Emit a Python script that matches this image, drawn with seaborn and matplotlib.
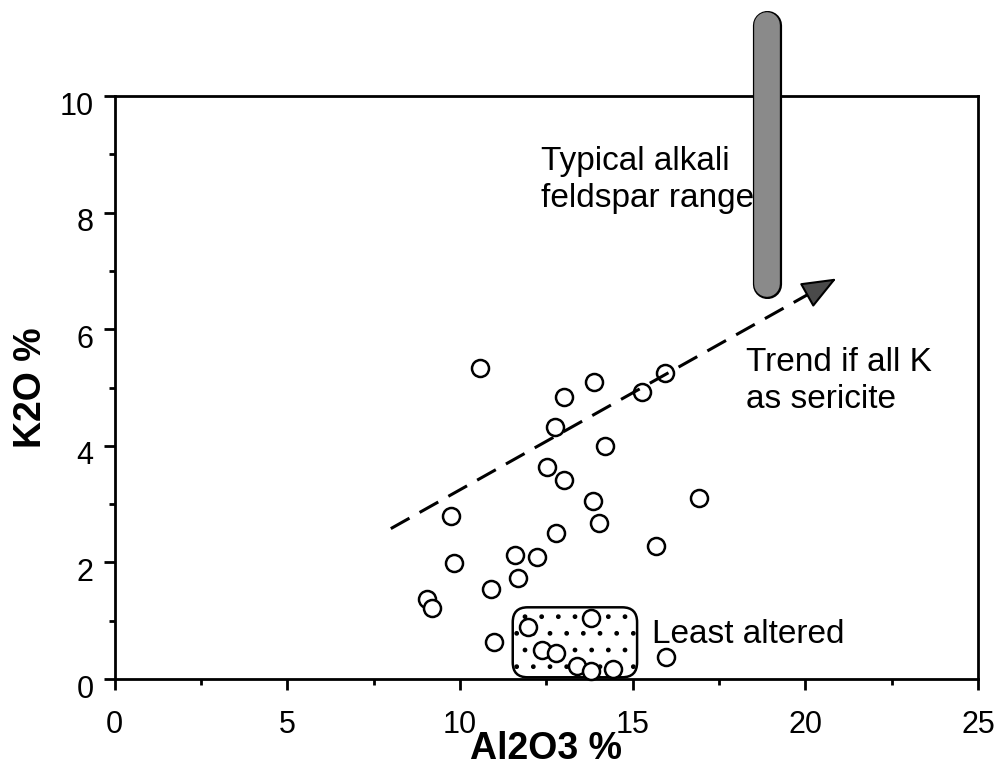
import numpy as np
import pandas as pd
import matplotlib
matplotlib.use("Agg")
import matplotlib.pyplot as plt
import seaborn as sns
from matplotlib.patches import FancyBboxPatch
from matplotlib import patheffects as pe
from matplotlib.transforms import ScaledTranslation
from matplotlib.ticker import MultipleLocator

# Whole-rock analyses (wt %)
al2o3 = [10.58, 13.87, 13.01, 15.93, 15.28, 12.76, 14.20, 12.52, 13.01, 13.86,
         16.92, 9.75, 14.03, 12.78, 15.67, 9.82, 11.60, 12.22, 11.67, 10.90,
         9.04, 9.20, 10.98, 11.96, 13.79, 12.38, 12.78, 13.40, 13.79, 14.42,
         15.98]
k2o = [5.33, 5.10, 4.83, 5.25, 4.92, 4.32, 4.00, 3.63, 3.41, 3.05,
       3.10, 2.80, 2.68, 2.50, 2.28, 1.99, 2.13, 2.09, 1.73, 1.54,
       1.37, 1.21, 0.63, 0.90, 1.05, 0.50, 0.45, 0.23, 0.13, 0.18,
       0.37]

x_ticks = [0, 5, 10, 15, 20, 25]
y_ticks = [0, 2, 4, 6, 8, 10]

# Alkali feldspar reference range (Al2O3 position, K2O span)
feldspar_al2o3 = 18.9
feldspar_k2o = (6.53, 11.47)

# Sericite trend vector
trend_start = (8.0, 2.58)
trend_end = (20.9, 6.87)

# Least-altered field (x0, y0, x1, y1)
least_altered = (11.53, 0.03, 15.13, 1.23)

sns.set_theme(style="ticks")
plt.rcParams["font.family"] = ["Liberation Sans", "DejaVu Sans"]
plt.rcParams["hatch.linewidth"] = 1.0
for key in ("text.color", "axes.labelcolor", "xtick.color", "ytick.color",
            "axes.edgecolor"):
    plt.rcParams[key] = "black"

fig = plt.figure(figsize=(10, 7.67), dpi=100)
ax = fig.add_axes([0.1145, 0.1147, 0.8635, 0.7601])

df = pd.DataFrame({"Al2O3": al2o3, "K2O": k2o})
sns.scatterplot(data=df, x="Al2O3", y="K2O", ax=ax, s=150, color="white",
                edgecolor="black", linewidth=1.8, zorder=4, clip_on=False,
                legend=False)

ax.set_xlim(x_ticks[0], x_ticks[-1])
ax.set_ylim(y_ticks[0], y_ticks[-1])
ax.set_xticks(x_ticks)
ax.set_yticks(y_ticks)
ax.xaxis.set_minor_locator(MultipleLocator(2.5))
ax.yaxis.set_minor_locator(MultipleLocator(1))

for s in ax.spines.values():
    s.set_linewidth(2.0)
    s.set_color("black")
ax.tick_params(which="major", direction="out", length=8, width=2,
               labelsize=22, colors="black")
ax.tick_params(which="minor", direction="out", length=4, width=2)
ax.tick_params(axis="x", which="major", pad=14)
ax.tick_params(axis="y", which="major", pad=7)
shift = ScaledTranslation(0, -0.07, fig.dpi_scale_trans)
for lab in ax.get_yticklabels():
    lab.set_transform(lab.get_transform() + shift)

ax.set_xlabel("Al2O3 %", fontsize=27, fontweight="bold")
ax.set_ylabel("K2O %", fontsize=27, fontweight="bold")
ax.xaxis.set_label_coords(0.5, -0.09)
ax.yaxis.set_label_coords(-0.076, 0.5)

# Least-altered stippled field
x0, y0, x1, y1 = least_altered
px_per_x = 0.8635 * 1000 / (x_ticks[-1] - x_ticks[0])
px_per_y = 0.7601 * 767 / (y_ticks[-1] - y_ticks[0])
box = FancyBboxPatch((x0, y0), x1 - x0, y1 - y0,
                     boxstyle="round,pad=0,rounding_size=0.43",
                     mutation_aspect=px_per_x / px_per_y,
                     facecolor="white", edgecolor="black", linewidth=1.8,
                     hatch=".", zorder=2)
ax.add_patch(box)
ax.text(15.56, 0.62, "Least altered", fontsize=24, ha="left",
        va="baseline", zorder=5)

# Feldspar bar with rounded ends, extending above the frame
cap = 14.5 / px_per_y
ax.plot([feldspar_al2o3, feldspar_al2o3],
        [feldspar_k2o[0] + cap, feldspar_k2o[1] - cap],
        color="#8a8a8a", linewidth=18.5, solid_capstyle="round",
        clip_on=False, zorder=6,
        path_effects=[pe.Stroke(linewidth=21, foreground="black"),
                      pe.Normal()])
ax.text(12.36, 8.1, "Typical alkali\nfeldspar range", fontsize=24,
        ha="left", va="baseline", linespacing=1.24, zorder=5)

# Sericite trend: dashed shaft plus filled head
sx, sy = trend_start
ex, ey = trend_end
frac = 1 - 28 / np.hypot((ex - sx) * px_per_x, (ey - sy) * px_per_y)
bx, by = sx + frac * (ex - sx), sy + frac * (ey - sy)
ax.plot([sx, bx], [sy, by], color="black", linewidth=2.2,
        linestyle=(0, (7, 3.8)), zorder=5, dash_capstyle="butt")
ax.annotate("", xy=(ex, ey), xytext=(bx, by),
            arrowprops=dict(arrowstyle="-|>,head_length=1,head_width=0.4",
                            mutation_scale=22, facecolor="#4a4a4a",
                            edgecolor="black", linewidth=1.5,
                            shrinkA=0, shrinkB=0),
            zorder=6)
ax.text(18.28, 4.65, "Trend if all K\nas sericite", fontsize=24,
        ha="left", va="baseline", linespacing=1.24, zorder=5)

fig.savefig("out.png", dpi=100)
